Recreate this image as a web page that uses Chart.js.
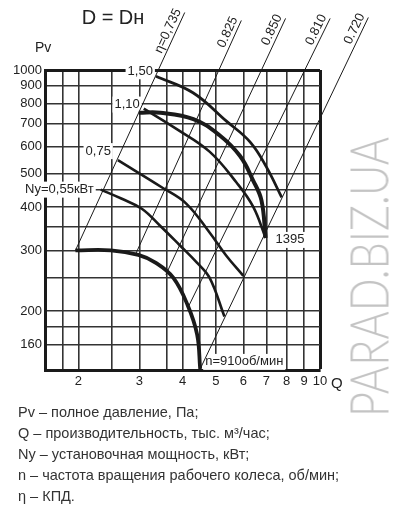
<!DOCTYPE html>
<html>
<head>
<meta charset="utf-8">
<script src="https://cdn.jsdelivr.net/npm/chart.js@4.4.0/dist/chart.umd.min.js"></script>
<style>
  html, body { margin: 0; padding: 0; background: #fff; }
  #wrap { position: relative; width: 399px; height: 510px; overflow: hidden; }
  #chart { position: absolute; left: 0; top: 0; }
  #notes { position: absolute; left: 18px; top: 402px; font: 14.5px "Liberation Sans", Arial, sans-serif; line-height: 21px; color: #333; white-space: nowrap; }
  #wm { position: absolute; left: 368px; top: 277px; transform: translate(-50%, -50%) rotate(-90deg) scaleX(0.8);
        font: 300 54px Lato, "Liberation Sans", sans-serif; color: #c4c4c4; white-space: nowrap; }
</style>
</head>
<body>
<div id="wrap">
  <canvas id="chart" width="399" height="400"></canvas>
  <div id="wm">PARAD.BIZ.UA</div>
  <div id="notes">
    Pv – полное давление, Па;<br>
    Q – производительность, тыс. м³/час;<br>
    Ny – установочная мощность, кВт;<br>
    n – частота вращения рабочего колеса, об/мин;<br>
    η – КПД.
  </div>
</div>
<script>
// деления осей
var qTicks = [1.8, 2, 2.5, 3, 3.6, 4, 4.5, 5, 6, 7, 8, 9, 10];
var qLabels = [2, 3, 4, 5, 6, 7, 8, 9, 10];
var pTicks = [160, 180, 200, 250, 300, 350, 400, 450, 500, 600, 700, 800, 900, 1000];
var pLabels = [160, 200, 300, 400, 500, 600, 700, 800, 900, 1000];

// характеристики Pv(Q)
var q910 = [1.96, 2.48, 2.98, 3.35, 3.76, 4.14, 4.41, 4.5];
var p910 = [300, 300, 291, 276, 250, 208, 171, 136];
var q1395 = [2.99, 3.45, 4.30, 5.11, 5.87, 6.40, 6.77, 6.96];
var p1395 = [752, 752, 721, 648, 563, 479, 419, 326];
var q055 = [2.32, 2.66, 3.05, 3.45, 3.92, 4.41, 4.79, 5.29];
var p055 = [450, 424, 396, 353, 311, 276, 250, 193];
var q075 = [2.60, 3.51, 4.10, 4.79, 5.35, 6.0];
var p075 = [548, 455, 410, 338, 290, 253];
var q110 = [3.09, 3.85, 4.79, 5.74, 6.41, 6.96];
var p110 = [773, 674, 580, 471, 401, 326];
var q150 = [3.35, 4.29, 5.36, 6.28, 7.0, 7.75];
var p150 = [959, 859, 711, 618, 523, 427];

// линии КПД (начало и конец)
var etaNames = ['η=0,735', '0.825', '0.850', '0.810', '0.720'];
var etaQ = [[1.96, 4.06], [2.92, 5.92], [3.58, 7.95], [4.14, 10.7], [4.5, 13.8]];
var etaP = [[300, 1468], [291, 1392], [255, 1411], [204, 1411], [136, 1420]];

function pts(q, p) {
    return q.map(function(v, i) { return { x: v, y: p[i] }; });
}

var font = '"Liberation Sans", Arial, sans-serif';
var ink = '#1a1a1a';

var datasets = [];
function curve(q, p, w) {
    datasets.push({ data: pts(q, p), showLine: true, pointRadius: 0, borderColor: ink,
        borderWidth: w, tension: 0.4, fill: false });
}
curve(q910, p910, 3.8);
curve(q1395, p1395, 4);
curve(q055, p055, 2.6);
curve(q075, p075, 2.6);
curve(q110, p110, 2.6);
curve(q150, p150, 2.8);
etaQ.forEach(function(q, i) {
    datasets.push({ data: pts(q, etaP[i]), showLine: true, pointRadius: 0, borderColor: ink,
        borderWidth: 1, tension: 0, clip: false });
});

var tags = [
    { text: 'Ny=0,55кВт', q: q055[0], p: p055[0], dx: -7, dy: 0, align: 'right' },
    { text: '0,75', q: q075[0], p: p075[0], dx: -7, dy: -9, align: 'right' },
    { text: '1,10', q: q110[0], p: p110[0], dx: -4, dy: -4, align: 'right' },
    { text: '1,50', q: q150[0], p: p150[0], dx: -3, dy: -5, align: 'right' },
    { text: '1395', q: q1395[q1395.length - 1], p: p1395[p1395.length - 1], dx: 10, dy: 2, align: 'left' },
    { text: 'n=910об/мин', q: q910[q910.length - 1], p: p910[p910.length - 1], dx: 5, dy: -7, align: 'left' }
];

var textPlugin = {
    id: 'texts',
    beforeDatasetsDraw: function(chart) {
        var ctx = chart.ctx, xs = chart.scales.x, ys = chart.scales.y;
        ctx.save();
        ctx.font = '13px ' + font;
        ctx.textBaseline = 'middle';
        ctx.textAlign = 'left';
        tags.forEach(function(t) {
            var x = xs.getPixelForValue(t.q) + t.dx;
            var y = ys.getPixelForValue(t.p) + t.dy;
            var w = ctx.measureText(t.text).width;
            var x0 = t.align === 'right' ? x - w : x;
            ctx.fillStyle = '#fff';
            ctx.fillRect(x0 - 2, y - 8, w + 4, 16);
            ctx.fillStyle = '#222';
            ctx.fillText(t.text, x0, y);
        });
        ctx.restore();
    },
    afterDraw: function(chart) {
        var ctx = chart.ctx, xs = chart.scales.x, ys = chart.scales.y;
        ctx.save();
        ctx.fillStyle = '#222';
        // подписи КПД вдоль линий
        ctx.font = '13px ' + font;
        ctx.textAlign = 'right';
        ctx.textBaseline = 'bottom';
        etaQ.forEach(function(q, i) {
            var x1 = xs.getPixelForValue(q[0]), y1 = ys.getPixelForValue(etaP[i][0]);
            var x2 = xs.getPixelForValue(q[1]), y2 = ys.getPixelForValue(etaP[i][1]);
            ctx.save();
            ctx.translate(x2, y2);
            ctx.rotate(Math.atan2(y2 - y1, x2 - x1));
            ctx.fillText(etaNames[i], 0, -1);
            ctx.restore();
        });
        ctx.textBaseline = 'alphabetic';
        ctx.textAlign = 'center';
        ctx.font = '20px ' + font;
        ctx.fillText('D = Dн', 113, 24);
        ctx.textAlign = 'left';
        ctx.font = '14px ' + font;
        ctx.fillText('Pv', 35, 52);
        ctx.font = '15px ' + font;
        ctx.fillText('Q', 331, 388);
        ctx.restore();
    }
};

var ctx = document.getElementById('chart').getContext('2d');
var chart = new Chart(ctx, {
    type: 'scatter',
    data: { datasets: datasets },
    options: {
        responsive: false,
        animation: false,
        events: [],
        layout: { padding: { left: 5, right: 79, top: 70, bottom: 5 } },
        plugins: { legend: { display: false }, tooltip: { enabled: false } },
        scales: {
            x: {
                type: 'logarithmic',
                min: 1.6,
                max: 10,
                afterBuildTicks: function(s) { s.ticks = qTicks.map(function(v) { return { value: v }; }); },
                afterFit: function(s) { s.height = 25; },
                ticks: {
                    autoSkip: false, maxRotation: 0, padding: 4, color: '#222',
                    font: { family: font, size: 13 },
                    callback: function(v) { return qLabels.indexOf(v) >= 0 ? String(v) : ''; }
                },
                grid: {
                    drawTicks: false,
                    color: function(c) { return c.tick && c.tick.value === 10 ? ink : '#333'; },
                    lineWidth: function(c) { return c.tick && c.tick.value === 10 ? 3 : 1.6; }
                },
                border: { display: true, width: 3, color: ink }
            },
            y: {
                type: 'logarithmic',
                min: 135,
                max: 1000,
                afterBuildTicks: function(s) { s.ticks = pTicks.map(function(v) { return { value: v }; }); },
                afterFit: function(s) { s.width = 40; },
                ticks: {
                    autoSkip: false, padding: 3, color: '#222',
                    font: { family: font, size: 13 },
                    callback: function(v) { return pLabels.indexOf(v) >= 0 ? String(v) : ''; }
                },
                grid: {
                    drawTicks: false,
                    color: function(c) { return c.tick && c.tick.value === 1000 ? ink : '#333'; },
                    lineWidth: function(c) { return c.tick && c.tick.value === 1000 ? 3 : 1.6; }
                },
                border: { display: true, width: 3, color: ink }
            }
        }
    },
    plugins: [textPlugin]
});
</script>
</body>
</html>
